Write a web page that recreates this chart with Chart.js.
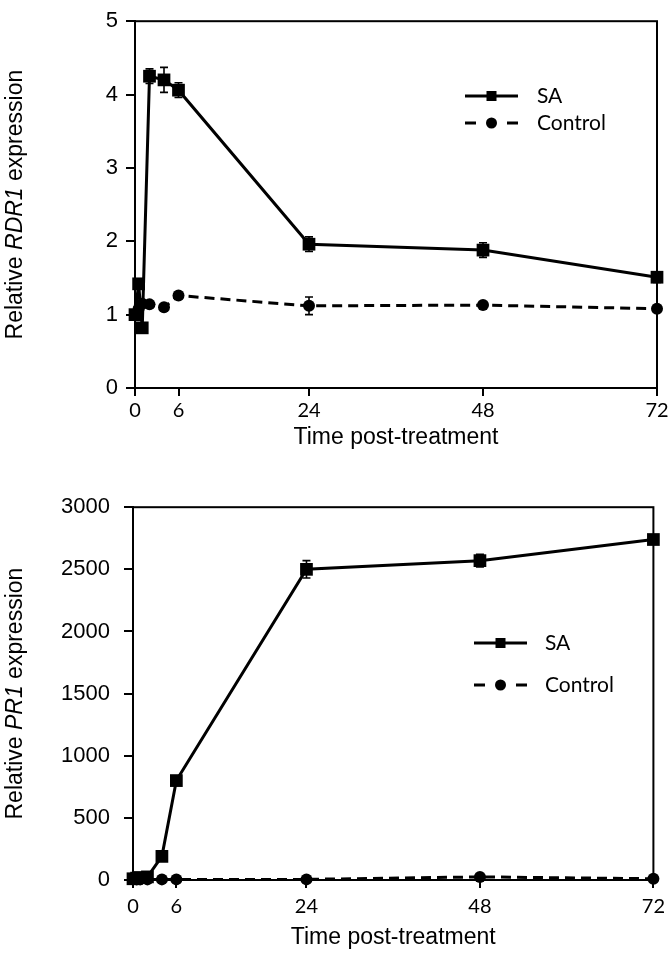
<!DOCTYPE html>
<html lang="en">
<head>
<meta charset="UTF-8">
<title>RDR1 / PR1 expression</title>
<script src="https://cdn.jsdelivr.net/npm/chart.js@4.4.0/dist/chart.umd.min.js"></script>
<style>
    body { margin: 0; background: #fff; }
    canvas { display: block; }
</style>
</head>
<body>
<canvas id="rdr1Chart" width="672" height="480"></canvas>
<canvas id="pr1Chart" width="672" height="480"></canvas>
<script>
// Time points (hours) and tick labels
const hours = [0, 0.5, 1, 2, 4, 6, 24, 48, 72];
const xTicks = [0, 6, 24, 48, 72];

// RDR1 relative expression
const rdr1SA = [1.0, 1.42, 0.82, 4.25, 4.2, 4.06, 1.96, 1.88, 1.51];
const rdr1SAErr = [0.03, 0.05, 0.03, 0.1, 0.17, 0.1, 0.1, 0.1, 0.07];
const rdr1Control = [1.0, 1.08, 1.15, 1.14, 1.1, 1.26, 1.12, 1.13, 1.08];
const rdr1ControlErr = [0.02, 0.03, 0.03, 0.03, 0.03, 0.03, 0.12, 0.04, 0.03];

// PR1 relative expression
const pr1SA = [10, 15, 20, 25, 190, 800, 2500, 2570, 2740];
const pr1SAErr = [3, 3, 4, 5, 10, 20, 70, 50, 30];
const pr1Control = [5, 5, 5, 5, 5, 5, 5, 25, 10];
const pr1ControlErr = [0, 0, 0, 0, 0, 0, 0, 0, 0];

const seriesLabels = ['SA', 'Control'];

const pts = (ys) => hours.map((h, i) => ({ x: h, y: ys[i] }));

// error bars, box frame, legend and y title with italic gene name
const extras = {
    id: 'extras',
    beforeDatasetsDraw(chart, args, opts) {
        const { ctx, scales: { x, y } } = chart;
        ctx.save();
        ctx.strokeStyle = '#000';
        ctx.lineWidth = 1.6;
        opts.errors.forEach((errs, di) => {
            chart.data.datasets[di].data.forEach((p, i) => {
                const e = errs[i];
                if (!e) return;
                const px = x.getPixelForValue(p.x);
                const y1 = y.getPixelForValue(p.y + e);
                const y2 = y.getPixelForValue(p.y - e);
                ctx.beginPath();
                ctx.moveTo(px, y1); ctx.lineTo(px, y2);
                ctx.moveTo(px - 4, y1); ctx.lineTo(px + 4, y1);
                ctx.moveTo(px - 4, y2); ctx.lineTo(px + 4, y2);
                ctx.stroke();
            });
        });
        ctx.restore();
    },
    afterDraw(chart, args, opts) {
        const { ctx, chartArea: a } = chart;
        ctx.save();
        // frame
        ctx.strokeStyle = '#000';
        ctx.lineWidth = 2;
        ctx.strokeRect(a.left, a.top, a.right - a.left, a.bottom - a.top);

        // legend
        const lg = opts.legend;
        const mid = (lg.x0 + lg.x1) / 2;
        chart.data.datasets.forEach((ds, i) => {
            const ly = lg.ys[i];
            ctx.strokeStyle = '#000';
            ctx.fillStyle = '#000';
            ctx.lineWidth = 3;
            ctx.beginPath();
            if (ds.borderDash && ds.borderDash.length) {
                ctx.moveTo(lg.x0, ly); ctx.lineTo(lg.x0 + 11, ly);
                ctx.moveTo(lg.x1 - 11, ly); ctx.lineTo(lg.x1, ly);
            } else {
                ctx.moveTo(lg.x0, ly); ctx.lineTo(lg.x1, ly);
            }
            ctx.stroke();
            ctx.beginPath();
            if (ds.pointStyle === 'rect') {
                ctx.fillRect(mid - 5, ly - 5, 10, 10);
            } else {
                ctx.arc(mid, ly, 5.5, 0, Math.PI * 2);
                ctx.fill();
            }
            ctx.font = '21px Lato';
            ctx.textBaseline = 'middle';
            ctx.textAlign = 'left';
            ctx.fillText(ds.label, lg.textX, ly);
        });

        // y title
        const parts = opts.yTitle;
        ctx.translate(16, (a.top + a.bottom) / 2);
        ctx.rotate(-Math.PI / 2);
        ctx.textBaseline = 'middle';
        ctx.textAlign = 'left';
        let total = 0;
        parts.forEach(p => {
            ctx.font = (p.italic ? 'italic ' : '') + '23px "Liberation Sans", Arial';
            p.w = ctx.measureText(p.text).width;
            total += p.w;
        });
        let cx = -total / 2;
        parts.forEach(p => {
            ctx.font = (p.italic ? 'italic ' : '') + '23px "Liberation Sans", Arial';
            ctx.fillText(p.text, cx, 0);
            cx += p.w;
        });
        ctx.restore();
    }
};

Chart.defaults.color = '#000';
Chart.defaults.font.family = '"Liberation Sans", Arial';

function makeChart(id, sa, control, errs, cfg) {
    const ctx = document.getElementById(id).getContext('2d');
    return new Chart(ctx, {
        type: 'line',
        data: {
            datasets: [
                {
                    label: seriesLabels[0],
                    data: pts(sa),
                    borderColor: '#000',
                    backgroundColor: '#000',
                    borderWidth: 3,
                    pointStyle: 'rect',
                    pointRadius: 9,
                    pointBorderWidth: 0,
                    clip: false
                },
                {
                    label: seriesLabels[1],
                    data: pts(control),
                    borderColor: '#000',
                    backgroundColor: '#000',
                    borderWidth: 3,
                    borderDash: [10, 6],
                    pointStyle: 'circle',
                    pointRadius: 6,
                    pointBorderWidth: 0,
                    clip: false
                }
            ]
        },
        options: {
            responsive: false,
            animation: false,
            layout: { padding: { top: cfg.top, right: 15, left: 0, bottom: 0 } },
            scales: {
                x: {
                    type: 'linear',
                    min: 0,
                    max: 72,
                    afterBuildTicks: (axis) => { axis.ticks = xTicks.map(v => ({ value: v })); },
                    afterFit: (scale) => { scale.height = cfg.xHeight; },
                    grid: { display: true, drawOnChartArea: false, drawTicks: true, tickLength: 8, tickColor: '#000', lineWidth: 2 },
                    border: { display: true, color: '#000', width: 2 },
                    ticks: { font: { family: 'Lato', size: 20 }, padding: cfg.xPad, maxRotation: 0, callback: (v) => String(v) },
                    title: {
                        display: true,
                        text: 'Time post-treatment',
                        font: { size: 23 },
                        padding: { top: 0, bottom: cfg.titlePad }
                    }
                },
                y: {
                    min: 0,
                    max: cfg.yMax,
                    ticks: { stepSize: cfg.yStep, font: { size: 22 }, padding: cfg.yPad, callback: (v) => String(v) },
                    afterFit: (scale) => { scale.width = cfg.yWidth; },
                    grid: { display: true, drawOnChartArea: false, drawTicks: true, tickLength: 9, tickColor: '#000', lineWidth: 2 },
                    border: { display: true, color: '#000', width: 2 }
                }
            },
            plugins: {
                legend: { display: false },
                tooltip: { enabled: false },
                extras: {
                    errors: errs,
                    legend: cfg.legend,
                    yTitle: cfg.yTitle
                }
            }
        },
        plugins: [extras]
    });
}

makeChart('rdr1Chart', rdr1SA, rdr1Control, [rdr1SAErr, rdr1ControlErr], {
    top: 13, xHeight: 92, yWidth: 135, yMax: 5, yStep: 1, yPad: 8, xPad: 3, titlePad: 29,
    legend: { x0: 465, x1: 518, textX: 537, ys: [96, 123] },
    yTitle: [{ text: 'Relative ' }, { text: 'RDR1', italic: true }, { text: ' expression' }]
});

makeChart('pr1Chart', pr1SA, pr1Control, [pr1SAErr, pr1ControlErr], {
    top: 22, xHeight: 80, yWidth: 133, yMax: 3000, yStep: 500, yPad: 14, xPad: 7, titlePad: 9,
    legend: { x0: 474, x1: 527, textX: 545, ys: [163, 205] },
    yTitle: [{ text: 'Relative ' }, { text: 'PR1', italic: true }, { text: ' expression' }]
});
</script>
</body>
</html>
